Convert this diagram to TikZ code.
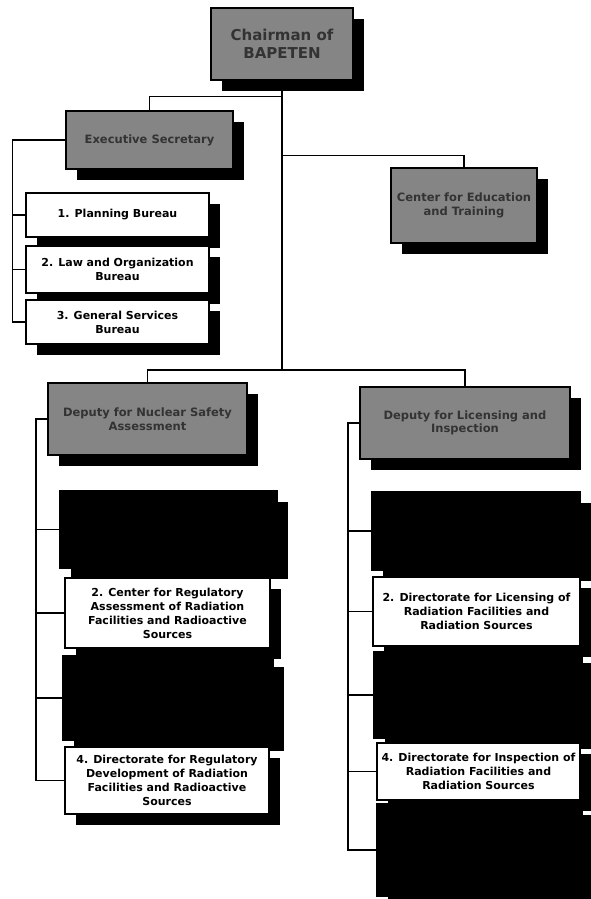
\documentclass[tikz,border=0pt]{standalone}
\usepackage{fontspec}
\setmainfont{DejaVu Sans}
\usetikzlibrary{backgrounds, positioning, shadows}

\tikzset{
  unit/.style={rectangle, draw=black, line width=1.8pt, align=center, inner sep=2pt,
    drop shadow={shadow xshift=11pt, shadow yshift=-11pt, fill=black, opacity=1}},
  greybox/.style={unit, fill=black!48, text=black!80,
    font=\bfseries\fontsize{11.5}{13.5}\selectfont},
  whitebox/.style={unit, fill=white, font=\bfseries\fontsize{11}{14}\selectfont},
  blackbox/.style={unit, fill=black},
  conn/.style={draw=black, line width=1.1pt}
}

\begin{document}
\begin{tikzpicture}[x=1pt, y=-1pt]
\useasboundingbox (0,0) rectangle (591,899);
%
\node[greybox, minimum width=142pt, minimum height=72pt,
      font=\bfseries\fontsize{15}{18}\selectfont] (chair) at (282,44) {Chairman of\\BAPETEN};
\node[greybox, minimum width=167pt, minimum height=58pt] (exec) at (149.5,140) {Executive Secretary};
\node[greybox, minimum width=146pt, minimum height=75pt] (edu) at (464,205.5) {Center for Education\\and Training};
%
\node[whitebox, minimum width=183pt, minimum height=44pt] (plan) at (117.5,215) {1. Planning Bureau};
\node[whitebox, minimum width=183pt, minimum height=47pt] (law) at (117.5,269.5) {2. Law and Organization\\Bureau};
\node[whitebox, minimum width=183pt, minimum height=44pt] (gsb) at (117.5,322) {3. General Services\\Bureau};
%
\node[greybox, minimum width=199pt, minimum height=72pt] (depnsa) at (147.5,419) {Deputy for Nuclear Safety\\Assessment};
\node[greybox, minimum width=210pt, minimum height=72pt] (deplic) at (465,423) {Deputy for Licensing and\\Inspection};
%
\node[blackbox, minimum width=217pt, minimum height=77pt] (nsa1) at (168.5,529.5) {};
\node[whitebox, minimum width=205pt, minimum height=70pt] (nsa2) at (167.5,613)
  {2. Center for Regulatory\\Assessment of Radiation\\Facilities and Radioactive\\Sources};
\node[blackbox, minimum width=210pt, minimum height=84pt] (nsa3) at (168,698) {};
\node[whitebox, minimum width=204pt, minimum height=67pt] (nsa4) at (167,780.5)
  {4. Directorate for Regulatory\\Development of Radiation\\Facilities and Radioactive\\Sources};
%
\node[blackbox, minimum width=208pt, minimum height=78pt] (lic1) at (476,531) {};
\node[whitebox, minimum width=207pt, minimum height=69pt] (lic2) at (476.5,611.5)
  {2. Directorate for Licensing of\\Radiation Facilities and\\Radiation Sources};
\node[blackbox, minimum width=208pt, minimum height=86pt] (lic3) at (478,695) {};
\node[whitebox, minimum width=203pt, minimum height=57pt] (lic4) at (478.5,771.5)
  {4. Directorate for Inspection of\\Radiation Facilities and\\Radiation Sources};
\node[blackbox, minimum width=205pt, minimum height=92pt] (lic5) at (479.5,850) {};

\coordinate (hub) at (282,370);
\coordinate (execspine) at (12.5,0);
\coordinate (nsaspine) at (36,0);
\coordinate (licspine) at (348,0);

\begin{scope}[on background layer]
\draw[conn] (chair.south) -- (hub);
\draw[conn] (depnsa.north) |- (hub) -| (deplic.north);
\draw[conn] (chair.south) ++(0,16) -| (exec.north);
\draw[conn] (chair.south) ++(0,75) -| (edu.north);
%
\foreach \b in {plan,law,gsb}
  \draw[conn] (exec.west) -| (execspine |- \b.west) -- (\b.west);
\foreach \b in {nsa1,nsa2,nsa3,nsa4}
  \draw[conn] (depnsa.west) -| (nsaspine |- \b.west) -- (\b.west);
\foreach \b in {lic1,lic2,lic3,lic4,lic5}
  \draw[conn] (deplic.west) -| (licspine |- \b.west) -- (\b.west);
\end{scope}
%
\end{tikzpicture}
\end{document}
